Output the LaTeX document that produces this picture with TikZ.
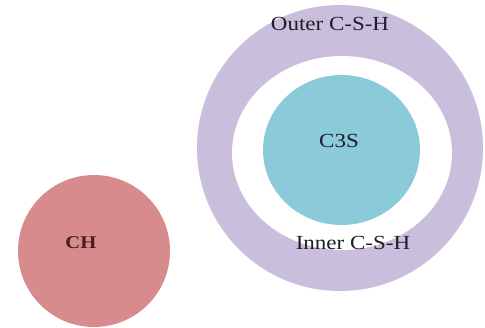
\documentclass[tikz,border=0pt]{standalone}
\usepackage{fontspec}
\setmainfont{Liberation Serif}
\newfontfamily\labfont[FakeStretch=1.15]{Liberation Serif}
\definecolor{ringcol}{HTML}{C9BEDB}
\definecolor{corecol}{HTML}{8BCAD9}
\definecolor{chcol}{HTML}{D88B8C}
\definecolor{chtext}{HTML}{4A1C1E}
\definecolor{txt}{HTML}{1E1E28}
\begin{document}
\begin{tikzpicture}[x=1pt,y=-1pt,
  disc/.style={circle,draw=none,inner sep=0pt},
  lab/.style={font=\labfont\fontsize{20}{23}\selectfont,text=txt,inner sep=0pt}]
\useasboundingbox[fill=white] (0,0) rectangle (485,327);
\node[disc,fill=ringcol,minimum size=286pt] (outer) at (340,148) {};
\fill[white] (342,153) ellipse [x radius=110, y radius=97];
\fill[corecol] (341.5,150) ellipse [x radius=78.5, y radius=75];
\coordinate (core) at (341.5,150);
\node[disc,fill=chcol,minimum size=152pt] (ch) at (94,251) {};
\node[lab] (outerlab) at (330,24) {Outer C-S-H};
\node[lab] (innerlab) at (353,243) {Inner C-S-H};
\node[lab] (corelab) at (339,141) {C3S};
\node[lab,text=chtext,font=\labfont\bfseries\fontsize{18}{22}\selectfont] (chlab) at (81,243) {CH};
\end{tikzpicture}
\end{document}
